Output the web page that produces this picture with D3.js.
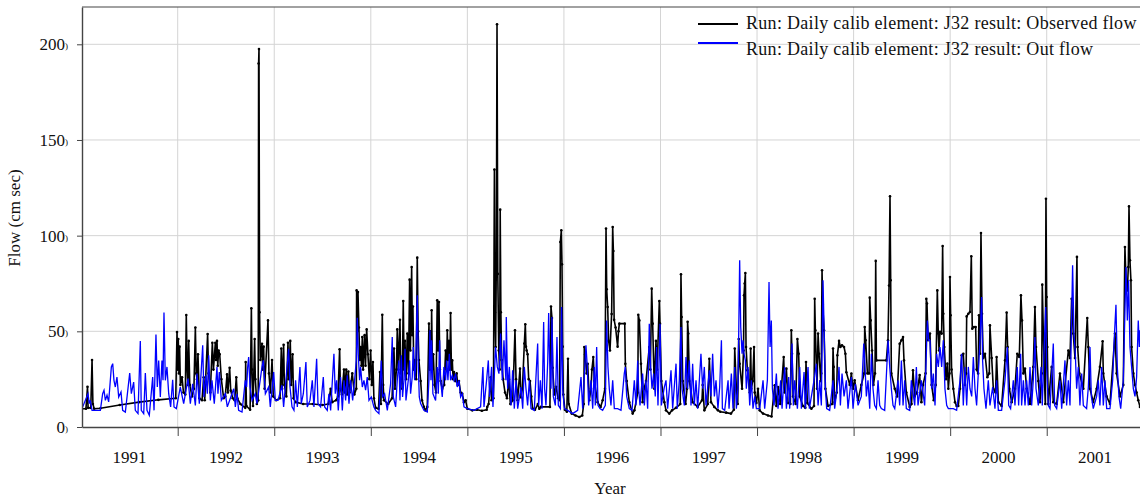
<!DOCTYPE html>
<html>
<head>
<meta charset="utf-8">
<script src="https://cdn.jsdelivr.net/npm/d3@7"></script>
<style>
body { margin: 0; background: #fff; }
text { font-family: "Liberation Serif", "Times New Roman", serif; fill: #111; }
</style>
</head>
<body>
<div id="chart"></div>
<script>
// [decimal year, flow]
const observed = [
[1991.009,9.5],[1991.05,9.5],[1991.066,21],[1991.072,10],[1991.1,10],[1991.113,35],[1991.122,12],[1991.135,9.5],[1991.2,9.8],[1991.4,11.5],[1991.6,13],[1991.8,14.2],[1991.98,15],
[1991.993,49.6],[1992.0,30],[1992.006,46],[1992.013,28],[1992.02,42],[1992.028,22],[1992.045,26],[1992.06,18],[1992.079,17],[1992.089,58.5],[1992.098,30],[1992.105,22],[1992.114,45],[1992.125,22],[1992.148,16],[1992.168,20],[1992.183,52],[1992.192,28],[1992.2,25],[1992.21,38],[1992.224,15],[1992.252,14],[1992.269,26],[1992.28,14],[1992.31,48.6],[1992.32,28],[1992.338,18],[1992.359,44],[1992.37,30],[1992.39,44],[1992.397,35],[1992.407,45],[1992.415,32],[1992.424,40],[1992.435,38],[1992.452,25],[1992.476,15],[1992.493,16],[1992.511,27.5],[1992.52,18],[1992.538,31],[1992.549,19],[1992.57,15],[1992.59,14],[1992.607,26],[1992.618,15],[1992.65,12],[1992.7,10],[1992.704,34],[1992.712,11],[1992.75,9],[1992.763,62],[1992.77,30],[1992.78,11],[1992.797,46],[1992.804,25],[1992.82,12],[1992.834,14],[1992.838,190],[1992.842,197.5],[1992.848,60],[1992.856,35],[1992.873,43.5],[1992.88,30],[1992.89,42],[1992.9,20],[1992.935,55.7],[1992.945,28],[1992.96,18],[1992.977,35],[1992.99,16],
[1993.02,14],[1993.06,15],[1993.073,41],[1993.082,20],[1993.097,43],[1993.105,22],[1993.125,16],[1993.142,44],[1993.15,25],[1993.166,45],[1993.175,22],[1993.19,38],[1993.2,15],
[1993.22,13],[1993.3,12],[1993.4,12],[1993.5,11.5],[1993.56,12],[1993.584,20],[1993.6,13],[1993.64,14],[1993.66,16],[1993.677,40.6],[1993.685,20],[1993.7,17],[1993.722,30],[1993.73,18],[1993.745,30],[1993.755,17],[1993.767,29],[1993.78,18],[1993.808,28],[1993.83,17],[1993.85,20],[1993.853,71.4],[1993.862,50],[1993.867,70.5],[1993.877,52],[1993.885,35],[1993.894,41.8],[1993.903,32],[1993.912,47],[1993.92,30],[1993.936,48],[1993.945,32],[1993.957,51],[1993.97,38],[1993.985,25],[1993.998,40],[1994.01,22],[1994.022,34],[1994.032,15],[1994.05,10],[1994.08,9.5],[1994.095,28.7],[1994.105,12],[1994.119,58.7],[1994.128,22],[1994.136,14],[1994.18,12],[1994.22,15],[1994.24,41],[1994.25,20],[1994.265,30],[1994.274,51],[1994.285,30],[1994.302,56],[1994.31,28],[1994.316,32],[1994.325,20],[1994.336,65.8],[1994.345,30],[1994.354,45],[1994.365,25],[1994.378,48.8],[1994.39,28],[1994.402,77],[1994.41,40],[1994.423,83.6],[1994.43,48],[1994.436,63],[1994.445,30],[1994.454,35],[1994.47,25],[1994.481,88.5],[1994.49,50],[1994.498,35],[1994.516,24],[1994.53,14],[1994.55,10.5],[1994.565,8.7],[1994.585,10.5],[1994.602,54],[1994.61,30],[1994.619,50],[1994.625,35],[1994.63,61],[1994.638,30],[1994.647,38],[1994.66,22],[1994.675,18],[1994.688,66.2],[1994.697,40],[1994.706,65.3],[1994.715,30],[1994.723,24],[1994.74,20],[1994.76,22],[1994.775,40],[1994.785,30],[1994.792,50.5],[1994.8,35],[1994.81,45],[1994.818,30],[1994.826,59.6],[1994.835,30],[1994.844,34.8],[1994.852,25],[1994.861,28.7],[1994.875,24],[1994.889,28],[1994.9,22],[1994.913,24],[1994.93,18],[1994.947,17.4],[1994.965,13],[1994.982,13.9],[1995.0,9.5],[1995.05,8.7],[1995.1,9],[1995.15,8.5],[1995.2,9],[1995.206,10.5],[1995.22,12],[1995.241,26],[1995.25,14],[1995.27,15],[1995.28,134.6],[1995.286,60],[1995.293,41.8],[1995.3,87],[1995.307,210.5],[1995.315,80],[1995.325,40],[1995.335,30],[1995.34,113.6],[1995.347,60],[1995.355,35],[1995.37,25],[1995.39,18],
[1995.41,15],[1995.43,25],[1995.445,12],[1995.47,14],[1995.493,50.5],[1995.504,25],[1995.52,14],[1995.545,30.5],[1995.555,15.5],[1995.57,20],[1995.59,43.6],[1995.6,53.7],[1995.607,42],[1995.614,40],[1995.624,38],[1995.635,25],[1995.649,24],[1995.662,16],[1995.676,9.6],[1995.7,9],[1995.73,12],[1995.745,9.5],[1995.762,10.5],[1995.855,10.5],[1995.866,63],[1995.876,57],[1995.883,31],[1995.9,17],[1995.918,21],[1995.94,15],[1995.955,14],[1995.963,96.7],[1995.973,102.8],[1995.98,85],[1995.987,42],[1995.994,17],[1996.01,9],[1996.03,8],[1996.042,35.7],[1996.05,12],[1996.08,7],[1996.12,6],[1996.159,5.2],[1996.19,6],[1996.205,12],[1996.211,41.8],[1996.22,38],[1996.235,28],[1996.246,33],[1996.263,14],[1996.28,20],[1996.29,30],[1996.304,36.6],[1996.315,24],[1996.349,13],[1996.38,10.5],[1996.401,14],[1996.425,20],[1996.436,103.7],[1996.443,72],[1996.453,62.7],[1996.463,45],[1996.477,40],[1996.494,59],[1996.505,104.5],[1996.512,92],[1996.52,56],[1996.535,52],[1996.556,42],[1996.565,50],[1996.574,54],[1996.63,54],[1996.636,33],[1996.65,24],[1996.677,13],[1996.712,7],[1996.73,8.7],[1996.765,18],[1996.77,58.7],[1996.781,55.7],[1996.798,33],[1996.815,13],[1996.83,20],[1996.85,24],[1996.884,41.8],[1996.895,30],[1996.909,72.3],[1996.919,54],[1996.936,20],[1996.953,45],[1996.965,30],[1996.988,65.8],[1996.995,54],[1997.009,24],[1997.04,13],[1997.057,8.7],[1997.091,7],[1997.12,8.7],[1997.16,10],[1997.205,12],[1997.212,79.8],[1997.219,57.5],[1997.23,24],[1997.26,12],[1997.275,20],[1997.281,55],[1997.288,48.8],[1997.299,24],[1997.333,13],[1997.385,10.5],[1997.43,14],[1997.437,22],[1997.454,8.7],[1997.49,12],[1997.506,35.7],[1997.523,13],[1997.557,10.5],[1997.595,8.7],
[1997.62,8],[1997.68,7.5],[1997.73,7],[1997.76,9],[1997.769,41],[1997.786,20],[1997.8,12],[1997.81,46],[1997.82,33],[1997.845,20],[1997.86,40],[1997.865,68.8],[1997.872,75],[1997.879,80.5],[1997.886,41.8],[1997.9,29.6],[1997.924,18],[1997.934,41],[1997.941,20],[1997.955,24],[1997.969,41.8],[1997.976,18],[1997.993,12.5],[1998.01,20],[1998.027,8.7],[1998.062,7],[1998.114,6],[1998.15,5.5],[1998.183,21.8],[1998.2,11],[1998.217,20.9],[1998.24,12],[1998.276,36.6],[1998.286,18],[1998.304,30.5],[1998.321,12.5],[1998.345,12],[1998.355,50.5],[1998.362,38.3],[1998.373,16],[1998.4,12],[1998.418,46],[1998.431,38.3],[1998.442,16],[1998.476,11],[1998.5,10],[1998.507,34],[1998.521,12.5],[1998.563,9.5],[1998.59,11],[1998.597,67],[1998.604,50.5],[1998.621,20],[1998.632,48.8],[1998.642,38.3],[1998.659,24],[1998.665,28],[1998.673,81.9],[1998.68,64],[1998.694,50.5],[1998.708,20],[1998.735,11],[1998.78,12],[1998.787,41],[1998.794,31.4],[1998.804,13],[1998.825,18],[1998.832,37.5],[1998.849,45],[1998.863,41.8],[1998.88,42.7],[1998.901,41.8],[1998.915,38.3],[1998.925,28.6],[1998.96,22],[1998.977,27.9],[1998.994,20],[1999.011,24.4],[1999.046,14],[1999.08,22],[1999.11,28],[1999.115,52.3],[1999.125,45.3],[1999.143,28],[1999.16,28],[1999.167,67.6],[1999.177,55.7],[1999.191,40],[1999.205,22],[1999.222,28],[1999.229,86.8],[1999.236,34.8],[1999.339,34.8],[1999.356,45.3],[1999.367,73.9],[1999.377,120.6],[1999.384,76.7],[1999.391,28],[1999.426,20],[1999.45,16],[1999.477,43.5],[1999.495,45.3],[1999.512,47],[1999.522,34.8],[1999.546,18],[1999.581,10.5],[1999.6,12],[1999.615,29.6],[1999.633,16],[1999.657,18],[1999.684,27.2],[1999.702,13],[1999.719,22],[1999.745,28],[1999.753,67],[1999.76,64.5],[1999.771,45.3],[1999.791,48.8],
[1999.808,22],[1999.83,14],[1999.85,22],[1999.867,71.4],[1999.877,48.8],[1999.885,40],[1999.895,49.7],[1999.912,48.8],[1999.922,94.6],[1999.929,59.2],[1999.939,41.8],[1999.957,25],[1999.971,33.1],[1999.981,20],[1999.993,28],[1999.998,78.4],[2000.005,58.4],[2000.015,30],[2000.033,20],[2000.05,13],[2000.067,11],[2000.084,11],[2000.102,20],[2000.119,37.5],[2000.136,38.3],[2000.153,22],[2000.165,28],[2000.171,57.8],[2000.188,59.2],[2000.205,60.1],[2000.219,89.2],[2000.229,51.4],[2000.247,52.3],[2000.264,52.3],[2000.274,30],[2000.29,28],[2000.298,58.4],[2000.309,38.3],[2000.319,101.4],[2000.33,59.2],[2000.343,36],[2000.361,38.3],[2000.385,26],[2000.405,28],[2000.412,53.1],[2000.43,36],[2000.447,20],[2000.47,18],[2000.481,36.6],[2000.499,13],[2000.533,11],[2000.568,34.8],[2000.585,59.8],[2000.595,41.8],[2000.613,20],[2000.637,13],[2000.671,20],[2000.695,38.3],[2000.716,36.6],[2000.733,68.8],[2000.744,55.7],[2000.758,28],[2000.775,30.5],[2000.792,20],[2000.827,12],[2000.861,31.4],[2000.878,62.7],[2000.889,41.8],[2000.913,24],[2000.93,13],[2000.948,28],[2000.954,74.4],[2000.965,48.8],[2000.975,28],[2000.985,12],[2000.992,119.3],[2000.999,67.9],[2001.006,41.8],[2001.016,12],[2001.051,31.4],[2001.068,13],[2001.103,12],[2001.137,27.9],[2001.172,13],[2001.224,40],[2001.241,36],[2001.258,67],[2001.275,48.8],[2001.293,36],[2001.313,88.9],[2001.32,41.8],[2001.338,28],[2001.379,20],[2001.42,57],[2001.431,41.8],[2001.448,20],[2001.482,13],[2001.517,20],[2001.551,31.4],[2001.579,44.8],[2001.586,28],[2001.62,16],[2001.655,12],[2001.707,48.8],[2001.724,28],[2001.759,16],[2001.793,22],[2001.81,94.1],[2001.821,76.7],[2001.835,71.4],[2001.845,83.6],[2001.852,115.3],[2001.862,87.1],[2001.872,76.7],[2001.879,41.8],[2001.897,28],[2001.914,22],[2001.931,18],[2001.948,14],[2001.966,10.5]
];

const outflow = [
[1991.009,9.6],[1991.071,17.4],[1991.085,12.2],[1991.095,13.9],[1991.113,8.7],[1991.199,8.7],[1991.223,17.4],[1991.237,19.2],[1991.251,13.9],[1991.268,16.6],[1991.285,13.1],[1991.313,31.4],[1991.327,33.1],[1991.34,24.4],[1991.354,20.9],[1991.371,26.1],[1991.389,15.7],[1991.413,18.3],[1991.43,8.7],[1991.458,7.8],[1991.503,28.2],[1991.52,17.4],[1991.544,23.5],[1991.561,8.7],[1991.589,7],[1991.613,44.9],[1991.623,8.7],[1991.648,7],[1991.665,28.2],[1991.682,8.7],[1991.706,6.1],[1991.741,26.1],[1991.755,8.7],[1991.775,48.3],[1991.789,20.9],[1991.803,34.8],[1991.82,15.7],[1991.837,34.8],[1991.848,24.4],[1991.858,59.8],[1991.872,24.4],[1991.889,31.4],[1991.907,17.4],[1991.927,10.5],[1991.948,24.7],[1991.962,10.5],[1991.986,9.6],
[1992.027,20.9],[1992.062,12.2],[1992.107,25.3],[1992.131,12.2],[1992.155,22.6],[1992.183,11.3],[1992.2,27.9],[1992.224,12.2],[1992.259,42.7],[1992.272,15.7],[1992.293,27],[1992.307,17.4],[1992.321,37.5],[1992.338,13.9],[1992.355,24.4],[1992.379,12.2],[1992.407,31.4],[1992.417,17.4],[1992.431,28.7],[1992.452,13.9],[1992.493,17.4],[1992.514,10.5],[1992.58,20],[1992.597,10.5],[1992.614,17.4],[1992.631,8.7],[1992.666,7.8],[1992.7,24.4],[1992.714,20.9],[1992.725,31.4],[1992.735,36.6],[1992.749,20.9],[1992.77,13.9],[1992.804,17.4],[1992.821,12.2],[1992.873,31.4],[1992.887,34.8],[1992.908,17.4],[1992.942,20.9],[1992.959,10.5],[1992.994,28.7],[1993.011,13.9],[1993.039,13.9],[1993.08,21.8],[1993.097,10.5],[1993.149,40.9],[1993.163,20.9],[1993.184,10.5],
[1993.204,8.7],[1993.221,24.4],[1993.239,10.5],[1993.266,31.4],[1993.28,12.2],[1993.301,17.4],[1993.328,34],[1993.342,10.5],[1993.37,13.9],[1993.394,24.4],[1993.411,10.5],[1993.439,35.7],[1993.453,12.2],[1993.48,10.5],[1993.508,26.1],[1993.522,10.5],[1993.549,8.7],[1993.566,17.4],[1993.584,8.7],[1993.618,38.3],[1993.632,17.4],[1993.646,24.4],[1993.663,8.7],[1993.687,26.1],[1993.705,8.7],[1993.722,24.4],[1993.739,13.9],[1993.756,27],[1993.774,12.2],[1993.791,24.4],[1993.812,13.9],[1993.832,24.4],[1993.85,34.8],[1993.86,57.1],[1993.87,38.3],[1993.884,24.4],[1993.894,31.4],[1993.912,20.9],[1993.929,24.4],[1993.946,19.2],[1993.963,26.1],[1993.981,13.9],[1994.005,15.7],[1994.032,10.5],[1994.05,8.7],[1994.084,7],[1994.108,34.8],[1994.122,15.7],[1994.143,17.4],[1994.171,8.7],[1994.205,22.6],[1994.222,47],[1994.233,15.7],[1994.257,10.5],[1994.274,24.4],[1994.291,34.8],[1994.302,13.9],[1994.316,37.5],[1994.329,15.7],[1994.343,24.4],[1994.354,40.9],[1994.364,13.9],[1994.388,24.4],[1994.402,34.8],[1994.412,17.4],[1994.429,26.1],[1994.44,41.8],[1994.454,24.4],[1994.464,31.4],[1994.481,68.8],[1994.492,31.4],[1994.502,15.7],[1994.516,12.2],[1994.55,8.7],[1994.585,7.8],[1994.602,24.4],[1994.612,50.5],[1994.623,24.4],[1994.63,45.3],[1994.643,17.4],[1994.671,13.9],[1994.688,31.4],[1994.699,17.4],[1994.713,45.3],[1994.723,24.4],[1994.74,15.7],[1994.757,31.4],[1994.775,24.4],[1994.785,34.8],[1994.799,24.4],[1994.813,38.3],[1994.826,24.4],[1994.844,27],[1994.861,24.4],[1994.878,27.9],[1994.895,20.9],[1994.913,24.4],[1994.93,15.7],[1994.947,17.4],[1994.965,10.5],[1994.999,9.6],[1995.068,8.7],[1995.137,10.5],[1995.161,31.4],[1995.172,10.5],[1995.199,24.4],[1995.217,34.8],[1995.23,15.7],[1995.251,31.4],[1995.265,10.5],[1995.292,41.8],[1995.31,31.4],[1995.327,27.9],[1995.344,48.8],[1995.362,24.4],[1995.379,45.3],[1995.399,24.4],
[1995.403,57.5],[1995.417,20],[1995.435,31.4],[1995.452,11.3],[1995.469,29.6],[1995.486,9.6],[1995.504,24.4],[1995.521,9.6],[1995.555,20.9],[1995.573,9.6],[1995.59,31.4],[1995.607,20],[1995.624,11.3],[1995.642,24.4],[1995.659,9.6],[1995.693,8.7],[1995.728,43.6],[1995.738,11.3],[1995.756,24.4],[1995.773,9.6],[1995.79,54.9],[1995.8,20],[1995.814,11.3],[1995.832,34],[1995.842,59.6],[1995.852,34.8],[1995.866,20],[1995.876,57.5],[1995.89,16],[1995.911,11.3],[1995.928,47],[1995.942,11.3],[1995.963,9.6],[1995.976,62.7],[1995.987,20],[1996.004,9.6],[1996.039,8.7],[1996.09,7],[1996.142,8.7],[1996.177,26.1],[1996.194,9.6],[1996.228,42.7],[1996.242,31.4],[1996.256,11.3],[1996.28,24.4],[1996.298,9.6],[1996.315,31.4],[1996.325,11.3],[1996.339,41.8],[1996.353,11.3],[1996.373,9.6],[1996.401,8.7],[1996.429,11.3],[1996.442,55.7],[1996.456,31.4],[1996.47,20],[1996.487,11.3],[1996.505,24.4],[1996.522,9.6],[1996.556,9.6],[1996.591,8.7],[1996.625,27.9],[1996.636,31.4],[1996.65,16],[1996.677,9.6],[1996.705,8.7],[1996.729,24.4],[1996.746,11.3],[1996.764,34.8],[1996.774,20],[1996.788,11.3],[1996.815,27.9],[1996.833,11.3],[1996.85,24.4],[1996.867,9.6],[1996.884,54],[1996.898,31.4],[1996.912,20],[1996.929,27.9],[1996.946,16],[1996.96,41.8],[1996.974,11.3],[1996.995,54],[1997.009,11.3],[1997.04,20.9],[1997.057,24.4],[1997.074,9.6],[1997.109,29.6],[1997.126,9.6],[1997.161,33.1],[1997.174,9.6],[1997.195,24.4],[1997.212,52.3],[1997.223,20],[1997.247,11.3],[1997.264,36.6],[1997.281,20],[1997.299,34.8],[1997.316,11.3],[1997.333,33.1],[1997.35,11.3],[1997.368,24.4],[1997.385,9.6],[1997.419,38.3],[1997.437,20],[1997.454,31.4],[1997.471,11.3],[1997.506,29.6],[1997.523,16],[1997.54,38.3],[1997.558,16],[1997.575,24.4],[1997.595,9.6],
[1997.613,20.9],[1997.631,45.3],[1997.641,9.6],[1997.665,8.7],[1997.7,24.4],[1997.71,9.6],[1997.734,27.9],[1997.751,9.6],[1997.769,31.4],[1997.786,9.6],[1997.803,20.9],[1997.82,87.1],[1997.831,52.3],[1997.845,38.3],[1997.855,45.3],[1997.865,38.3],[1997.879,34.8],[1997.889,20],[1997.907,31.4],[1997.924,11.3],[1997.941,24.4],[1997.958,9.6],[1997.976,16],[1997.993,9.6],[1998.028,9.6],[1998.062,24.4],[1998.079,9.6],[1998.107,24.4],[1998.124,75.8],[1998.135,41.8],[1998.148,55.7],[1998.159,20],[1998.176,11.3],[1998.2,27.9],[1998.217,9.6],[1998.245,24.4],[1998.259,9.6],[1998.286,31.4],[1998.304,9.6],[1998.328,26.1],[1998.338,9.6],[1998.362,43.6],[1998.376,11.3],[1998.39,24.4],[1998.418,9.6],[1998.442,31.4],[1998.459,9.6],[1998.487,28.7],[1998.5,9.6],[1998.528,31.4],[1998.542,9.6],[1998.563,16],[1998.59,24.4],[1998.614,33.1],[1998.632,11.3],[1998.649,24.4],[1998.666,11.3],[1998.683,76.7],[1998.694,52.3],[1998.708,20],[1998.721,9.6],[1998.752,8.7],[1998.787,24.4],[1998.804,9.6],[1998.839,24.4],[1998.849,31.4],[1998.863,11.3],[1998.88,27.9],[1998.901,16],[1998.925,24.4],[1998.942,9.6],[1998.977,26.1],[1998.994,9.6],[1999.018,22.6],[1999.046,11.3],[1999.08,16],[1999.105,43.6],[1999.115,34.8],[1999.132,16],[1999.149,24.4],[1999.167,9.6],[1999.184,38.3],[1999.201,20],[1999.218,11.3],[1999.236,9.6],[1999.253,24.4],[1999.27,11.3],[1999.287,9.6],[1999.322,8.7],[1999.357,45.3],[1999.374,31.4],[1999.391,20],[1999.408,11.3],[1999.426,9.6],[1999.46,24.4],[1999.477,11.3],[1999.495,34.8],[1999.512,11.3],[1999.529,24.4],[1999.546,9.6],[1999.581,8.7],[1999.598,24.4],[1999.633,11.3],[1999.65,31.4],[1999.667,11.3],[1999.702,24.4],[1999.736,11.3],[1999.764,55.7],[1999.778,45.3],
[1999.791,45.3],[1999.808,20],[1999.826,27.9],[1999.843,11.3],[1999.86,38.3],[1999.877,31.4],[1999.895,41.8],[1999.912,31.4],[1999.929,45.3],[1999.946,20],[1999.964,11.3],[1999.981,9.6],[2000.015,9.6],[2000.033,9.6],[2000.067,8.7],[2000.102,24.4],[2000.119,38.3],[2000.136,11.3],[2000.153,31.4],[2000.171,11.3],[2000.188,31.4],[2000.205,20],[2000.223,16],[2000.24,36.6],[2000.257,20],[2000.274,11.3],[2000.309,45.3],[2000.326,67.9],[2000.336,34.8],[2000.35,20],[2000.371,9.6],[2000.395,24.4],[2000.412,11.3],[2000.44,20.9],[2000.464,9.6],[2000.481,24.4],[2000.499,8.7],[2000.533,8.7],[2000.568,24.4],[2000.592,41.8],[2000.606,11.3],[2000.626,9.6],[2000.654,24.4],[2000.671,11.3],[2000.695,31.4],[2000.709,11.3],[2000.73,38.3],[2000.74,11.3],[2000.758,24.4],[2000.775,11.3],[2000.792,24.4],[2000.809,11.3],[2000.827,31.4],[2000.844,11.3],[2000.861,24.4],[2000.878,47],[2000.889,20],[2000.913,11.3],[2000.941,31.4],[2000.954,11.3],[2000.975,43.6],[2000.989,62.7],[2000.999,31.4],[2001.016,11.3],[2001.034,9.6],[2001.068,43.6],[2001.082,11.3],[2001.103,9.6],[2001.137,24.4],[2001.155,9.6],[2001.189,34.8],[2001.206,11.3],[2001.224,24.4],[2001.241,11.3],[2001.268,84.5],[2001.282,48.8],[2001.296,38.3],[2001.31,20],[2001.327,31.4],[2001.344,11.3],[2001.362,27.9],[2001.379,11.3],[2001.413,9.6],[2001.431,20.9],[2001.448,41.8],[2001.462,16],[2001.482,9.6],[2001.517,16],[2001.534,24.4],[2001.551,11.3],[2001.569,31.4],[2001.586,11.3],[2001.603,24.4],[2001.621,9.6],[2001.655,9.6],[2001.683,24.4],[2001.7,47],[2001.717,63.9],[2001.731,31.4],[2001.748,16],[2001.766,9.6],[2001.793,24.4],[2001.821,83.6],[2001.835,55.7],[2001.848,76.7],[2001.862,41.8],[2001.879,31.4],[2001.897,20],[2001.914,16],[2001.931,26.1],[2001.948,55.7],[2001.959,41.8],[2001.966,50.5]
];

const yTicks = [0, 50, 100, 150, 200];
const yearBounds = [1992, 1993, 1994, 1995, 1996, 1997, 1998, 1999, 2000, 2001];
const yearLabels = [1991, 1992, 1993, 1994, 1995, 1996, 1997, 1998, 1999, 2000, 2001];
const seriesNames = ['Run: Daily calib element: J32 result: Observed flow', 'Run: Daily calib element: J32 result: Out flow'];
const seriesColors = ['#000000', '#0000ff'];

const width = 1140;
const height = 500;
const margin = { top: 7, right: 0, bottom: 73, left: 82 };

const svg = d3.select('#chart')
    .append('svg')
    .attr('width', width)
    .attr('height', height);

const x = d3.scaleLinear()
    .domain([1991.009, 2001.966])
    .range([margin.left, width - margin.right]);

const y = d3.scaleLinear()
    .domain([0, 219.5])
    .range([height - margin.bottom, margin.top]);

// grid
svg.append('g')
    .attr('stroke', '#d4d4d4')
    .selectAll('line.v')
    .data(yearBounds)
    .join('line')
        .attr('x1', d => x(d)).attr('x2', d => x(d))
        .attr('y1', y.range()[1]).attr('y2', y.range()[0]);

svg.append('g')
    .attr('stroke', '#d4d4d4')
    .selectAll('line')
    .data(yTicks.slice(1))
    .join('line')
        .attr('x1', margin.left).attr('x2', width)
        .attr('y1', d => y(d)).attr('y2', d => y(d));

svg.append('defs').append('clipPath').attr('id', 'plot')
    .append('rect')
    .attr('x', margin.left).attr('y', margin.top)
    .attr('width', width - margin.left).attr('height', y(0) - margin.top);

const line = d3.line().x(d => x(d[0])).y(d => y(d[1]));

const plot = svg.append('g').attr('clip-path', 'url(#plot)');

plot.append('path')
    .datum(observed)
    .attr('fill', 'none')
    .attr('stroke', seriesColors[0])
    .attr('stroke-width', 1.6)
    .attr('stroke-linejoin', 'round')
    .attr('d', line);

plot.append('g')
    .selectAll('circle')
    .data(observed)
    .join('circle')
        .attr('cx', d => x(d[0]))
        .attr('cy', d => y(d[1]))
        .attr('r', 1.3)
        .attr('fill', '#000');

plot.append('path')
    .datum(outflow)
    .attr('fill', 'none')
    .attr('stroke', seriesColors[1])
    .attr('stroke-width', 1.3)
    .attr('d', line);

// frame top
svg.append('line')
    .attr('x1', margin.left).attr('x2', width)
    .attr('y1', margin.top).attr('y2', margin.top)
    .attr('stroke', '#444').attr('stroke-width', 1.2);

// axes
function xAxis(g) {
    g.attr('transform', `translate(0, ${y(0)})`)
        .call(d3.axisBottom(x).tickValues(yearBounds).tickSize(9).tickSizeOuter(0).tickFormat(''));
    g.select('.domain').attr('stroke', '#444').attr('stroke-width', 1.4);
    g.selectAll('.tick line').attr('stroke', '#444');
}

function yAxis(g) {
    g.attr('transform', `translate(${margin.left}, 0)`)
        .call(d3.axisLeft(y).tickValues(yTicks).tickSize(5).tickSizeOuter(0).tickPadding(9));
    g.select('.domain').attr('stroke', '#444').attr('stroke-width', 1.4);
    g.selectAll('.tick line').attr('stroke', '#444');
    g.selectAll('.tick text')
        .attr('font-family', '"Liberation Serif", serif')
        .attr('font-size', 17)
        .attr('fill', '#111')
        .append('tspan')
        .attr('font-size', 9)
        .attr('dy', '-0.1em')
        .text(')');
}

svg.append('g').call(xAxis);
svg.append('g').call(yAxis);

svg.append('g')
    .selectAll('text')
    .data(yearLabels)
    .join('text')
        .attr('x', d => x(d + 0.5))
        .attr('y', 463)
        .attr('text-anchor', 'middle')
        .attr('font-size', 17)
        .text(d => d);

svg.append('text')
    .attr('x', 610).attr('y', 494)
    .attr('text-anchor', 'middle')
    .attr('font-size', 17)
    .text('Year');

svg.append('text')
    .attr('transform', `translate(20, 218) rotate(-90)`)
    .attr('text-anchor', 'middle')
    .attr('font-size', 17)
    .text('Flow (cm sec)');

// legend
const legend = svg.append('g')
    .selectAll('g')
    .data(seriesNames)
    .join('g')
        .attr('transform', (d, i) => `translate(698, ${i === 0 ? 24 : 43})`);

legend.append('line')
    .attr('x1', 0).attr('x2', 40)
    .attr('stroke', (d, i) => seriesColors[i])
    .attr('stroke-width', 2);

legend.append('text')
    .attr('x', 48)
    .attr('y', (d, i) => i === 0 ? 5 : 12)
    .attr('font-size', 18)
    .attr('letter-spacing', 0.3)
    .text(d => d);
</script>
</body>
</html>
